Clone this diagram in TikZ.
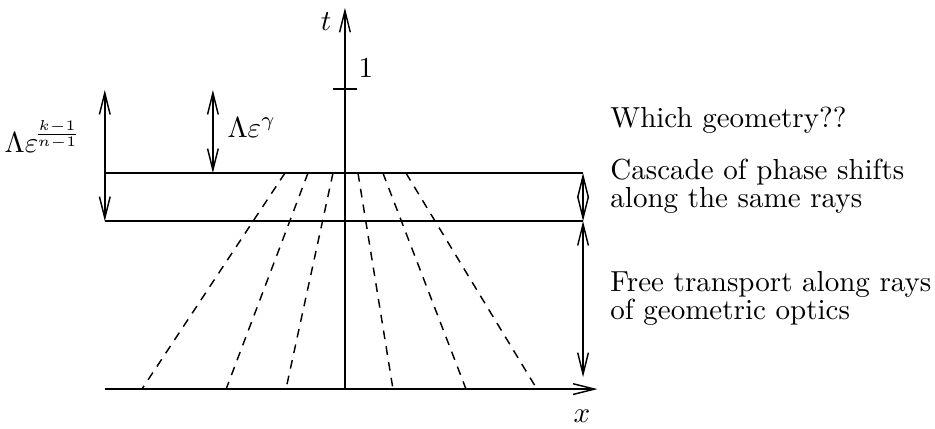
\documentclass[tikz,border=0pt]{standalone}
\usetikzlibrary{arrows.meta}
\begin{document}
\begin{tikzpicture}[
  axis/.style={line width=0.5pt, -{Straight Barb[length=2.6mm,width=1.3mm]}},
  span/.style={line width=0.5pt, {Straight Barb[length=2.6mm,width=1.3mm]}-{Straight Barb[length=2.6mm,width=1.3mm]}},
  level/.style={line width=0.5pt},
  ray/.style={line width=0.5pt, dash pattern=on 3pt off 2.5pt},
  lab/.style={inner sep=0pt},
  note/.style={anchor=west, align=left, inner sep=0pt, font=\linespread{0.8}\selectfont}
]
\useasboundingbox (-4.18,-0.473) rectangle (7.15,4.715);

\coordinate (O) at (0,0);
\coordinate (xstart) at (-2.91,0);
\coordinate (xend) at (3.06,0);
\coordinate (tend) at (0,4.62);
\coordinate (tickL) at (-0.145,3.636);
\coordinate (tickR) at (0.145,3.636);
\coordinate (upL) at (-2.91,2.618);
\coordinate (upR) at (2.885,2.618);
\coordinate (loL) at (-2.91,2.036);
\coordinate (loR) at (2.885,2.036);
\coordinate (topA) at (-2.91,3.624);
\coordinate (topB) at (-1.6,3.624);
\coordinate (botB) at (-1.6,2.618);
\coordinate (botC) at (2.885,0.145);

\draw[axis] (xstart) -- (xend);
\draw[axis] (O) -- (tend);
\draw[level] (tickL) -- (tickR);
\draw[level] (upL) -- (upR);
\draw[level] (loL) -- (loR);

\foreach \a/\b in {-0.727/-2.46, -0.448/-1.44, -0.145/-0.715, 0.158/0.582, 0.46/1.467, 0.739/2.327}
  \draw[ray] (\a,2.618) -- (\b,0);

\draw[span] (topA) -- (loL);
\draw[span] (topB) -- (botB);
\draw[span] (upR) -- (loR);
\draw[span] (loR) -- (botC);

\node[lab, anchor=base east] (tlab) at (-0.158,4.35) {$t$};
\node[lab, anchor=base west] (one) at (0.16,3.77) {$1$};
\node[lab, anchor=base] (xlab) at (2.87,-0.41) {$x$};
\node[lab, anchor=base west] (gam) at (-1.43,3.05) {$\Lambda\varepsilon^{\gamma}$};
\node[lab, anchor=base east] (kn) at (-3.19,2.87) {$\Lambda\varepsilon^{\!\frac{k-1}{n-1}}$};

\node[note] (which) at (3.21,3.26) {Which geometry??};
\node[note] (cascade) at (3.21,2.455) {Cascade of phase shifts\\along the same rays};
\node[note] (free) at (3.21,1.10) {Free transport along rays\\of geometric optics};
\end{tikzpicture}
\end{document}
